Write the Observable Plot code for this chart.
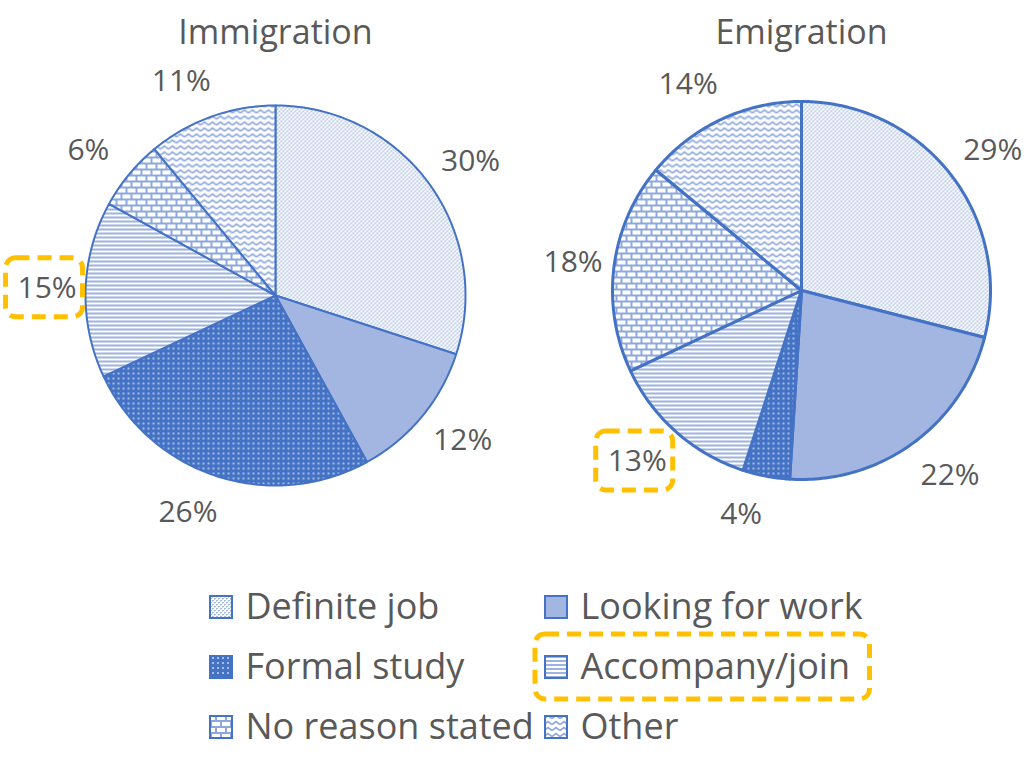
<!DOCTYPE html>
<html><head><meta charset="utf-8">
<script src="https://cdn.jsdelivr.net/npm/d3@7"></script>
<script src="https://cdn.jsdelivr.net/npm/@observablehq/plot@0.6"></script>
<style>html,body{margin:0;background:#fff}svg{display:block}</style>
</head><body><div id="chart"></div>
<script>
// ---- data ----
const categories = ["Definite job","Looking for work","Formal study","Accompany/join","No reason stated","Other"];
const immigration = [30,12,26,15,6,11];
const emigration = [29,22,4,13,18,14];
const chartTitles = ["Immigration","Emigration"];
const highlighted = ["Accompany/join"];

// ---- layout / style ----
const W = 1024, H = 765;
const BLUE = "#4472C4", TEXT = "#595959", GOLD = "#FFC000";
const FONT = "Open Sans";
const TITLE_SIZE = 34, LABEL_SIZE = 30, LEGEND_SIZE = 36;
const layout = [
  {cx: 275, cy: 295, r: 190, sw: 2},
  {cx: 801, cy: 290, r: 189, sw: 3}
];
const LABEL_R = 228, LABEL_PUSH = 18;
const series = [immigration, emigration];

const pieGen = d3.pie().sort(null).value(d => d);
const slicePts = [[], []], labels = [], titles = [];
series.forEach((vals, k) => {
  const {cx, cy, r} = layout[k];
  pieGen(vals).forEach((a, i) => {
    const key = k + "-" + i, fill = `url(#pat${i})`;
    const pts = slicePts[k];
    pts.push({key, x: cx, y: cy, fill});
    const n = Math.max(2, Math.ceil((a.endAngle - a.startAngle) / (Math.PI / 180)));
    for (let j = 0; j <= n; j++) {
      const t = a.startAngle + (a.endAngle - a.startAngle) * j / n;
      pts.push({key, x: cx + r * Math.sin(t), y: cy - r * Math.cos(t), fill});
    }
    pts.push({key, x: cx, y: cy, fill});
    const m = (a.startAngle + a.endAngle) / 2, ux = Math.sin(m), uy = -Math.cos(m);
    labels.push({x: cx + LABEL_R * ux + LABEL_PUSH * Math.sign(ux) * Math.abs(uy),
                 y: cy + LABEL_R * uy, text: a.value + "%",
                 hl: highlighted.includes(categories[i])});
  });
  titles.push({x: cx, y: 33, text: chartTitles[k]});
});

// legend
const ctx = document.createElement("canvas").getContext("2d");
ctx.font = `${LEGEND_SIZE}px "${FONT}"`;
const colX = [210, 545], rowY0 = 607, rowStep = 60, sw = 22;
const legend = categories.map((c, i) => {
  const sx = colX[i % 2], yc = rowY0 + Math.floor(i / 2) * rowStep;
  return {c, i, sx, yc, tx: sx + 35, w: ctx.measureText(c).width, fill: `url(#pat${i})`,
          hl: highlighted.includes(c)};
});

const boxes = [
  ...labels.filter(d => d.hl).map(d => ({x1: d.x - 41, x2: d.x + 36, y1: d.y - 30, y2: d.y + 29})),
  ...legend.filter(d => d.hl).map(d => ({x1: d.sx - 10, x2: d.tx + d.w + 20, y1: d.yc - 33, y2: d.yc + 32}))
];

const plot = Plot.plot({
  width: W, height: H, margin: 0,
  x: {domain: [0, W], range: [0, W], axis: null},
  y: {domain: [0, H], range: [0, H], axis: null},
  color: {type: "identity"},
  style: {fontFamily: FONT, background: "#fff"},
  marks: [
    ...layout.map((L, k) => Plot.line(slicePts[k], {x: "x", y: "y", z: "key", fill: "fill",
        stroke: BLUE, strokeWidth: L.sw, strokeLinejoin: "round", curve: "linear"})),
    Plot.text(titles, {x: "x", y: "y", text: "text", fontSize: TITLE_SIZE, fill: TEXT}),
    Plot.text(labels, {x: "x", y: "y", text: "text", fontSize: LABEL_SIZE, fill: TEXT}),
    Plot.rect(legend, {x1: "sx", x2: d => d.sx + sw, y1: d => d.yc - sw / 2, y2: d => d.yc + sw / 2,
        fill: "fill", stroke: BLUE, strokeWidth: 2}),
    Plot.text(legend, {x: "tx", y: "yc", text: "c", textAnchor: "start", fontSize: LEGEND_SIZE, fill: TEXT}),
    Plot.rect(boxes, {x1: "x1", x2: "x2", y1: "y1", y2: "y2", fill: "none", stroke: GOLD,
        strokeWidth: 5, strokeDasharray: "14,8", rx: 10})
  ]
});

d3.select(plot).insert("defs", ":first-child").html(`
<pattern id="pat0" patternUnits="userSpaceOnUse" width="4" height="4"><rect width="4" height="4" fill="#fff"/><rect x="0" y="0" width="2" height="1" fill="#A2B8E4"/><rect x="2" y="2" width="2" height="1" fill="#A2B8E4"/><rect x="0" y="1" width="1" height="1" fill="#C2D0EE"/><rect x="2" y="3" width="1" height="1" fill="#C2D0EE"/></pattern>
<pattern id="pat1" patternUnits="userSpaceOnUse" width="4" height="4"><rect width="4" height="4" fill="#A2B6E1"/></pattern>
<pattern id="pat2" patternUnits="userSpaceOnUse" width="5" height="5"><rect width="5" height="5" fill="#4472C4"/><rect x="2" y="2" width="2" height="2" fill="#A8BDE6"/></pattern>
<pattern id="pat3" patternUnits="userSpaceOnUse" width="4" height="4"><rect width="4" height="4" fill="#fff"/><rect y="0" width="4" height="2" fill="#9DB3E0"/></pattern>
<pattern id="pat4" patternUnits="userSpaceOnUse" width="10" height="12"><rect width="10" height="12" fill="#fff"/><rect y="0" width="10" height="2" fill="#8EA8DC"/><rect y="6" width="10" height="2" fill="#8EA8DC"/><rect x="0" y="0" width="2" height="6" fill="#8EA8DC"/><rect x="5" y="6" width="2" height="6" fill="#8EA8DC"/></pattern>
<pattern id="pat5" patternUnits="userSpaceOnUse" width="8" height="6"><rect width="8" height="6" fill="#fff"/><path d="M0 4.5 L4 1.5 L8 4.5" fill="none" stroke="#8FA9DC" stroke-width="1.6"/></pattern>
`);
document.getElementById("chart").appendChild(plot);
</script>
</body></html>
